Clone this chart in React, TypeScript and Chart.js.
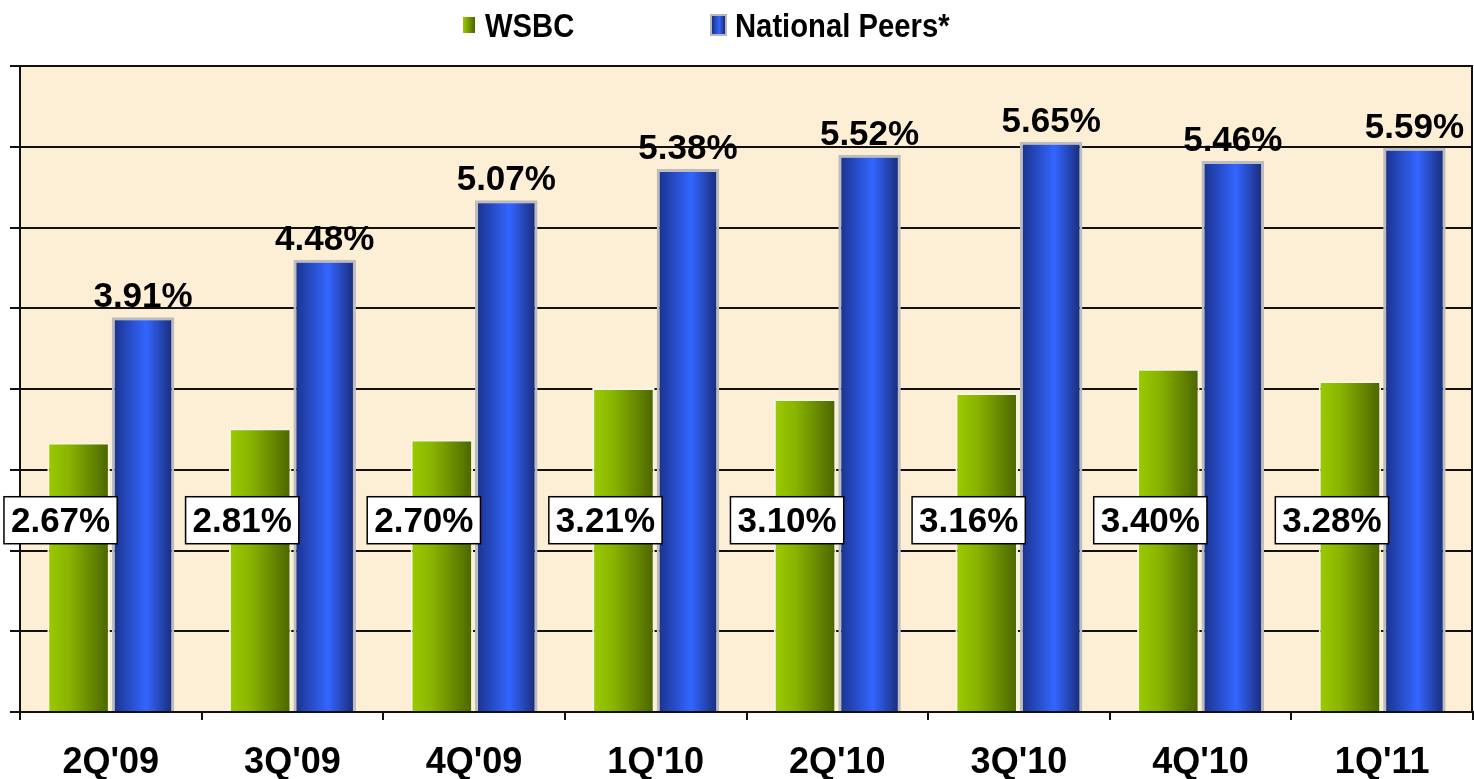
import React, { useEffect, useRef } from 'react';
import { Chart, registerables } from 'chart.js';

Chart.register(...registerables);

const categories = ["2Q'09", "3Q'09", "4Q'09", "1Q'10", "2Q'10", "3Q'10", "4Q'10", "1Q'11"];
const wsbcValues = [2.67, 2.81, 2.7, 3.21, 3.1, 3.16, 3.4, 3.28];
const peerValues = [3.91, 4.48, 5.07, 5.38, 5.52, 5.65, 5.46, 5.59];
const seriesNames = ['WSBC', 'National Peers*'];
const yMin = 0;
const yMax = 6.4;
const yStep = 0.8;

const FONT = '"Liberation Sans", Arial, Helvetica, sans-serif';
const CAT_PCT = 0.71;
const BAR_PCT = 0.97;
const WSBC_LABEL_VALUE = 1.9;

function barGeom(chart: any, index: number, dsIndex: number) {
  const x = chart.scales.x;
  const catW = x.width / categories.length;
  const center = x.getPixelForValue(index);
  const slot = (catW * CAT_PCT) / 2;
  const c = center + (dsIndex === 0 ? -slot / 2 : slot / 2);
  const w = slot * BAR_PCT;
  return { left: c - w / 2, right: c + w / 2, center: c };
}

function greenFill(ctx: any) {
  const chart = ctx.chart;
  if (ctx.dataIndex === undefined || !chart.chartArea || !chart.scales || !chart.scales.x) return '#7aa300';
  const g = barGeom(chart, ctx.dataIndex, 0);
  const grad = chart.ctx.createLinearGradient(g.left, 0, g.right, 0);
  grad.addColorStop(0, '#9ccc00');
  grad.addColorStop(0.35, '#88b300');
  grad.addColorStop(1, '#4a6400');
  return grad;
}

function blueFill(ctx: any) {
  const chart = ctx.chart;
  if (ctx.dataIndex === undefined || !chart.chartArea || !chart.scales || !chart.scales.x) return '#2f5ee8';
  const g = barGeom(chart, ctx.dataIndex, 1);
  const grad = chart.ctx.createLinearGradient(g.left, 0, g.right, 0);
  grad.addColorStop(0, '#1a3088');
  grad.addColorStop(0.55, '#3366ff');
  grad.addColorStop(1, '#182870');
  return grad;
}

const decorPlugin = {
  id: 'decor',
  beforeDraw(chart: any) {
    const { ctx, chartArea: a } = chart;
    ctx.save();
    ctx.fillStyle = '#fcefd6';
    ctx.fillRect(a.left, a.top, a.right - a.left, a.bottom - a.top);
    ctx.restore();
  },
  afterDatasetsDraw(chart: any) {
    const { ctx, chartArea: a } = chart;
    const y = chart.scales.y;
    ctx.save();
    // right border
    ctx.strokeStyle = '#111';
    ctx.lineWidth = 2;
    ctx.beginPath();
    ctx.moveTo(a.right - 1, a.top);
    ctx.lineTo(a.right - 1, a.bottom);
    ctx.stroke();

    ctx.font = `bold 35px ${FONT}`;
    ctx.fillStyle = '#000';
    // peer labels above bars
    ctx.textAlign = 'center';
    ctx.textBaseline = 'alphabetic';
    peerValues.forEach((v, i) => {
      const g = barGeom(chart, i, 1);
      const top = y.getPixelForValue(v);
      ctx.fillText(v.toFixed(2) + '%', g.center, top - 10);
    });
    // WSBC labels in boxes
    const ly = y.getPixelForValue(WSBC_LABEL_VALUE);
    wsbcValues.forEach((v, i) => {
      const g = barGeom(chart, i, 0);
      const text = v.toFixed(2) + '%';
      const tw = ctx.measureText(text).width;
      const bw = tw + 14;
      const bh = 47;
      const cx = g.center - 18;
      const bx = cx - bw / 2;
      const by = ly - bh / 2;
      ctx.fillStyle = '#ffffff';
      ctx.fillRect(bx, by, bw, bh);
      ctx.strokeStyle = '#000';
      ctx.lineWidth = 1.5;
      ctx.strokeRect(bx, by, bw, bh);
      ctx.fillStyle = '#000';
      ctx.textBaseline = 'middle';
      ctx.fillText(text, cx, ly + 2);
    });
    ctx.restore();
  },
  afterDraw(chart: any) {
    const { ctx } = chart;
    ctx.save();
    // legend
    const gg = ctx.createLinearGradient(463, 0, 475, 0);
    gg.addColorStop(0, '#9ccc00');
    gg.addColorStop(1, '#4a6400');
    ctx.fillStyle = gg;
    ctx.fillRect(463, 17, 12, 16);

    ctx.fillStyle = '#b8b8b8';
    ctx.fillRect(710, 14, 17, 22);
    const bg = ctx.createLinearGradient(712, 0, 725, 0);
    bg.addColorStop(0, '#1a3088');
    bg.addColorStop(0.55, '#3366ff');
    bg.addColorStop(1, '#182870');
    ctx.fillStyle = bg;
    ctx.fillRect(712, 16, 13, 18);

    ctx.fillStyle = '#000';
    ctx.font = `bold 34px ${FONT}`;
    ctx.textAlign = 'left';
    ctx.textBaseline = 'alphabetic';
    const drawCondensed = (text: string, x: number, yb: number) => {
      ctx.save();
      ctx.translate(x, yb);
      ctx.scale(0.86, 1);
      ctx.fillText(text, 0, 0);
      ctx.restore();
    };
    drawCondensed(seriesNames[0], 485, 37);
    drawCondensed(seriesNames[1], 735, 37);
    ctx.restore();
  },
};

export default function App() {
  const canvasRef = useRef<HTMLCanvasElement | null>(null);

  useEffect(() => {
    if (!canvasRef.current) return;
    const chart = new Chart(canvasRef.current, {
      type: 'bar',
      data: {
        labels: categories,
        datasets: [
          {
            label: seriesNames[0],
            data: wsbcValues,
            backgroundColor: greenFill as any,
            borderColor: '#f4f4e8',
            borderWidth: 2,
            categoryPercentage: CAT_PCT,
            barPercentage: BAR_PCT,
          },
          {
            label: seriesNames[1],
            data: peerValues,
            backgroundColor: blueFill as any,
            borderColor: '#bdbdbd',
            borderWidth: 3,
            categoryPercentage: CAT_PCT,
            barPercentage: BAR_PCT,
          },
        ],
      },
      options: {
        animation: false,
        responsive: true,
        maintainAspectRatio: false,
        layout: { padding: { top: 66, left: 10, right: 1, bottom: -27 } },
        plugins: {
          legend: { display: false },
          tooltip: { enabled: false },
        },
        scales: {
          x: {
            grid: {
              display: true,
              drawOnChartArea: false,
              offset: true,
              tickLength: 8,
              color: '#111',
              lineWidth: 2,
            },
            border: { display: true, color: '#111', width: 2 },
            ticks: {
              color: '#000',
              padding: 25,
              font: { family: FONT, size: 36, weight: 'bold', lineHeight: 1 },
            },
          },
          y: {
            min: yMin,
            max: yMax,
            ticks: { display: false, stepSize: yStep },
            grid: { color: '#111', lineWidth: 2, tickLength: 10, drawTicks: true },
            border: { display: true, color: '#111', width: 2 },
          },
        },
      },
      plugins: [decorPlugin],
    });
    return () => chart.destroy();
  }, []);

  return (
    <div style={{ position: 'absolute', left: 0, top: 0, width: 1474, height: 779 }}>
      <canvas ref={canvasRef} />
    </div>
  );
}
